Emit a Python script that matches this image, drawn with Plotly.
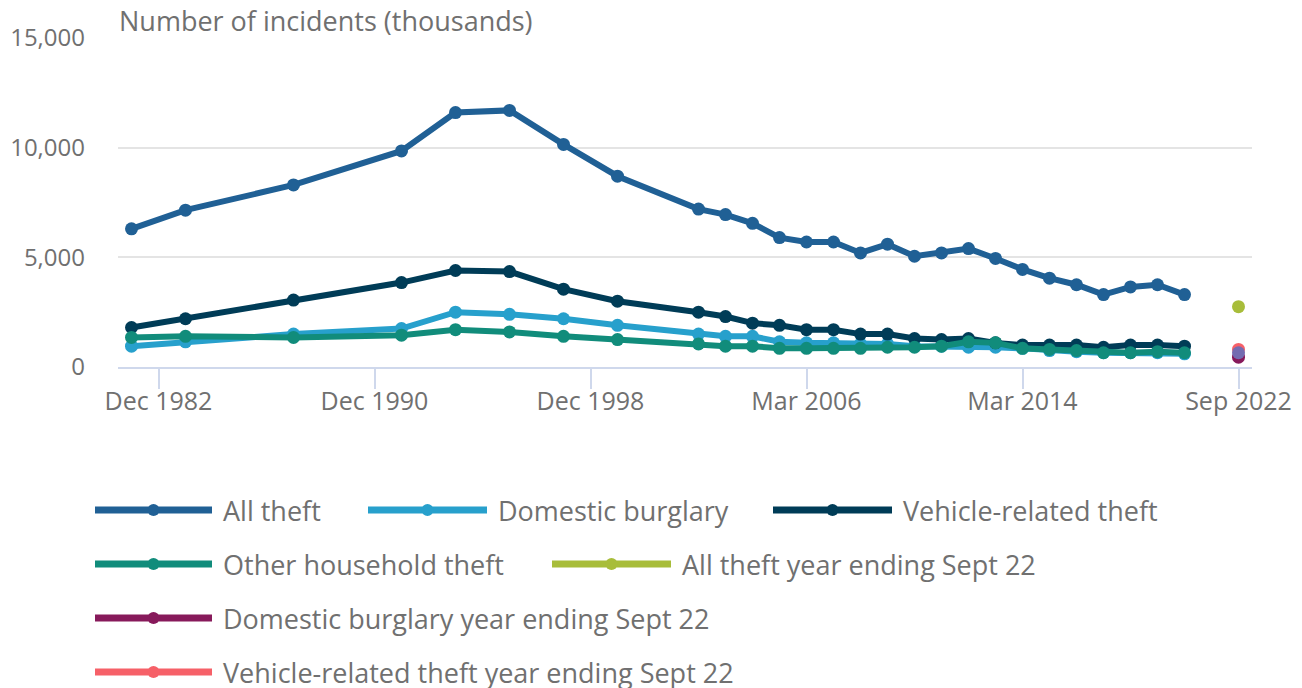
import plotly.graph_objects as go

# ---- data ----
categories = (
    [f"Dec {y}" for y in range(1981, 2000)]
    + ["Dec 2000", "Mar 2001"]
    + [f"Mar {y}" for y in range(2002, 2022)]
    + ["Sep 2022"]
)
periods = (
    ["Dec 1981", "Dec 1983", "Dec 1987", "Dec 1991", "Dec 1993", "Dec 1995", "Dec 1997", "Dec 1999"]
    + [f"Mar {y}" for y in range(2002, 2021)]
)
tick_labels = ["Dec 1982", "Dec 1990", "Dec 1998", "Mar 2006", "Mar 2014", "Sep 2022"]

all_theft = [6300, 7150, 8300, 9850, 11600, 11700, 10150, 8700,
             7200, 6950, 6550, 5900, 5700, 5700, 5200, 5600, 5050, 5200, 5400, 4950,
             4450, 4050, 3750, 3300, 3650, 3750, 3300]
domestic_burglary = [950, 1150, 1500, 1750, 2500, 2400, 2200, 1900,
                     1500, 1400, 1400, 1150, 1100, 1100, 1050, 1050, 950, 950, 900, 900,
                     850, 750, 700, 650, 650, 650, 600]
vehicle_theft = [1800, 2200, 3050, 3850, 4400, 4350, 3550, 3000,
                 2500, 2300, 2000, 1900, 1700, 1700, 1500, 1500, 1300, 1250, 1300, 1100,
                 1000, 1000, 1000, 900, 1000, 1000, 950]
other_household = [1350, 1400, 1350, 1450, 1700, 1600, 1400, 1250,
                   1050, 950, 950, 850, 850, 850, 850, 900, 900, 950, 1150, 1100,
                   850, 800, 750, 650, 650, 700, 650]

latest_period = ["Sep 2022"]
all_theft_latest = [2750]
burglary_latest = [450]
vehicle_latest = [800]
other_latest = [650]

series_names = ["All theft", "Domestic burglary", "Vehicle-related theft", "Other household theft",
                "All theft year ending Sept 22", "Domestic burglary year ending Sept 22",
                "Vehicle-related theft year ending Sept 22", "Other household theft year ending Sept 22"]
colors = ["#206095", "#27a0cc", "#003c57", "#118c7b", "#a8bd3a", "#871a5b", "#f66068", "#746cb1"]

FONT = "Open Sans"
GREY = "#707070"

fig = go.Figure()
main_series = [all_theft, domestic_burglary, vehicle_theft, other_household]
for i, vals in enumerate(main_series):
    fig.add_trace(go.Scatter(x=periods, y=vals, name=series_names[i], mode="lines+markers",
                             line=dict(color=colors[i], width=6),
                             marker=dict(color=colors[i], size=13), showlegend=False))
latest_series = [all_theft_latest, burglary_latest, vehicle_latest, other_latest]
for j, vals in enumerate(latest_series):
    i = j + 4
    fig.add_trace(go.Scatter(x=latest_period, y=vals, name=series_names[i], mode="markers",
                             marker=dict(color=colors[i], size=13), showlegend=False))

# page body has an 8px margin: figure placed at (8, 8)
OFF = 8
W, H = 1294, 680
L, R, T, B = 110, 50, 30, 321
pw, ph = W - L - R, H - T - B

def px(x):
    # x in page pixels -> paper
    return (x - OFF - L) / pw

def py(y):
    # y in page pixels -> paper
    return (H - B - (y - OFF)) / ph

# manual legend (long line symbols), positions in page pixels
legend_items = [
    (510, 95, 212), (510, 368, 487), (510, 773, 892),
    (564, 95, 212), (564, 552, 671),
    (618, 95, 212), (672, 95, 212), (726, 95, 212),
]
shapes = []
annotations = []
for k, (yy, x0, x1) in enumerate(legend_items):
    c = colors[k]
    shapes.append(dict(type="line", xref="paper", yref="paper", x0=px(x0), x1=px(x1),
                       y0=py(yy), y1=py(yy), line=dict(color=c, width=7)))
    shapes.append(dict(type="circle", xref="paper", yref="paper", xsizemode="pixel", ysizemode="pixel",
                       xanchor=px((x0 + x1) / 2), yanchor=py(yy), x0=-6, x1=6, y0=-6, y1=6,
                       fillcolor=c, line=dict(width=0)))
    annotations.append(dict(text=series_names[k], xref="paper", yref="paper", x=px(x1 + 9), y=py(yy),
                            xanchor="left", yanchor="middle", showarrow=False,
                            font=dict(family=FONT, size=27, color=GREY)))

annotations.append(dict(text="Number of incidents (thousands)", xref="paper", yref="paper",
                        x=px(117), y=py(20), xanchor="left", yanchor="middle", showarrow=False,
                        font=dict(family=FONT, size=27, color=GREY)))

fig.update_layout(
    width=W, height=H,
    margin=dict(l=L, r=R, t=T, b=B, autoexpand=False),
    paper_bgcolor="white", plot_bgcolor="white",
    font=dict(family=FONT, size=23, color=GREY),
    shapes=shapes, annotations=annotations,
    showlegend=False,
)
fig.update_xaxes(
    type="category", categoryorder="array", categoryarray=categories,
    range=[-0.5, len(categories) - 0.5], automargin=False,
    tickvals=tick_labels, ticktext=tick_labels,
    showgrid=False, showline=True, linecolor="#cfd8ec", linewidth=2,
    ticks="outside", ticklen=20, tickwidth=2, tickcolor="#cfd8ec",
    ticklabelstandoff=-9,
    tickfont=dict(family=FONT, size=25, color=GREY), zeroline=False,
)
fig.update_yaxes(
    range=[0, 15000], tickvals=[0, 5000, 10000, 15000], tickformat=",",
    automargin=False,
    showgrid=True, gridcolor="#e4e4e4", gridwidth=2, zeroline=False, showline=False,
    ticks="", ticklabelstandoff=32,
    tickfont=dict(family=FONT, size=24, color=GREY),
)

fig.write_html("out.html")
